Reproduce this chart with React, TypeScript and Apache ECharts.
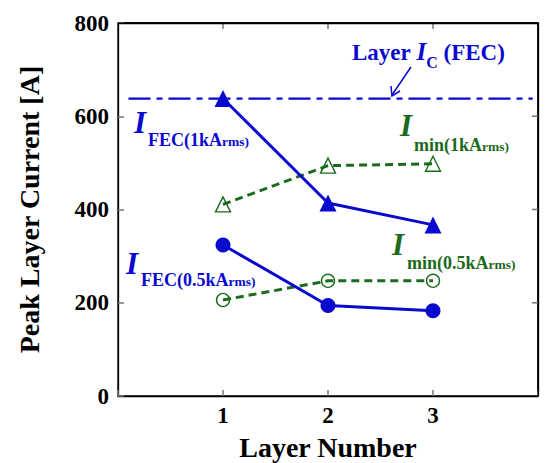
import React, { useEffect, useRef } from "react";
import * as echarts from "echarts";

const layers = [1, 2, 3];
const iFec1k = [638, 414, 367];
const iMin1k = [411, 494, 498];
const iFec05k = [324, 194, 183];
const iMin05k = [206, 247, 247];
const layerIc = 638;
const icSpan = [0.1, 3.95];
const yTicks = [0, 200, 400, 600, 800];
const xRange = [0, 4];

const BLUE = "#0a0acf";
const GREEN = "#1c6a1c";
const FONT = "'Liberation Serif', 'Times New Roman', serif";

const GRID = { left: 118, right: 9, top: 23, bottom: 67 };
const W = 547;
const H = 463;

const pts = (ys: number[]) => layers.map((x, i) => [x, ys[i]]);

export default function App() {
  const ref = useRef<HTMLDivElement>(null);
  useEffect(() => {
    document.body.style.margin = "0";
    if (!ref.current) return;
    const chart = echarts.init(ref.current, undefined, { renderer: "svg" });
    const tickStyle = { show: true, inside: true, length: 6, lineStyle: { color: "#777777", width: 1.5 } };
    const axisLine = { show: true, onZero: false, lineStyle: { color: "#000000", width: 1.3 } };
    const subRich = (main: string, color: string) => ({
      text: `{a|${main}}{b|rms)}`,
      fill: color,
      font: `bold 18px ${FONT}`,
      rich: {
        a: { fontFamily: FONT, fontWeight: "bold", fontSize: 18, fill: color, verticalAlign: "bottom" },
        b: { fontFamily: FONT, fontWeight: "bold", fontSize: 13.5, fill: color, verticalAlign: "bottom", padding: [0, 0, 1, 0] },
      },
      verticalAlign: "bottom",
    });
    const bigI = (x: number, y: number, color: string) => ({
      type: "text",
      x,
      y,
      style: { text: "I", fill: color, font: `italic bold 31px ${FONT}`, verticalAlign: "bottom" },
    });

    const gx0 = GRID.left;
    const gx1 = W - GRID.right;
    const gy0 = GRID.top;
    const gy1 = H - GRID.bottom;

    chart.setOption({
      animation: false,
      grid: {
        ...GRID,
        containLabel: false,
        outerBoundsMode: "none",
        show: true,
        borderColor: "#000000",
        borderWidth: 1.3,
        backgroundColor: "rgba(255,255,255,0)",
      },
      xAxis: [
        {
          type: "value",
          min: xRange[0],
          max: xRange[1],
          interval: 1,
          position: "bottom",
          axisLine,
          axisTick: tickStyle,
          splitLine: { show: false },
          axisLabel: {
            color: "#000",
            fontFamily: FONT,
            fontWeight: "bold",
            fontSize: 23,
            margin: 8,
            formatter: (v: number) => (layers.includes(v) ? String(v) : ""),
          },
          name: "Layer Number",
          nameLocation: "middle",
          nameGap: 37,
          nameTextStyle: { color: "#000", fontFamily: FONT, fontWeight: "bold", fontSize: 28 },
        },
      ],
      yAxis: [
        {
          type: "value",
          min: 0,
          max: 800,
          interval: 200,
          position: "left",
          axisLine,
          axisTick: tickStyle,
          splitLine: { show: false },
          axisLabel: {
            color: "#000",
            fontFamily: FONT,
            fontWeight: "bold",
            fontSize: 23,
            margin: 9,
            formatter: (v: number) => (yTicks.includes(v) ? String(v) : ""),
          },
          name: "Peak Layer Current [A]",
          nameLocation: "middle",
          nameGap: 75,
          nameTextStyle: { color: "#000", fontFamily: FONT, fontWeight: "bold", fontSize: 28 },
        },
      ],
      series: [
        {
          type: "line",
          data: icSpan.map((x) => [x, layerIc]),
          symbol: "none",
          lineStyle: { color: BLUE, width: 2.2, type: [22, 6, 6, 6] },
          z: 1,
          markLine: {
            silent: true,
            symbol: ["none", "none"],
            label: { show: false },
            lineStyle: { color: "#000000", width: 1.3, type: "solid" },
            data: [
              [{ coord: [xRange[0], 800] }, { coord: [xRange[1], 800] }],
              [{ coord: [xRange[1], 0] }, { coord: [xRange[1], 800] }],
            ],
          },
        },
        {
          type: "line",
          data: pts(iMin1k),
          symbol: "triangle",
          symbolSize: 15,
          itemStyle: { color: "rgba(255,255,255,0)", borderColor: GREEN, borderWidth: 1.4 },
          lineStyle: { color: GREEN, width: 3, type: [8, 5] },
          z: 2,
        },
        {
          type: "line",
          data: pts(iMin05k),
          symbol: "circle",
          symbolSize: 13,
          itemStyle: { color: "rgba(255,255,255,0)", borderColor: GREEN, borderWidth: 1.4 },
          lineStyle: { color: GREEN, width: 3, type: [8, 5] },
          z: 2,
        },
        {
          type: "line",
          data: pts(iFec1k),
          symbol: "triangle",
          symbolSize: 17,
          itemStyle: { color: BLUE, borderWidth: 0 },
          lineStyle: { color: BLUE, width: 3 },
          z: 3,
        },
        {
          type: "line",
          data: pts(iFec05k),
          symbol: "circle",
          symbolSize: 15,
          itemStyle: { color: BLUE, borderWidth: 0 },
          lineStyle: { color: BLUE, width: 3 },
          z: 3,
        },
      ],
    });

    const toPx = (x: number, y: number): number[] => [
      gx0 + ((x - xRange[0]) / (xRange[1] - xRange[0])) * (gx1 - gx0),
      gy1 - (y / 800) * (gy1 - gy0),
    ];
    const frame: any[] = [
      {
        type: "polyline",
        shape: { points: [[gx0, gy0], [gx1, gy0], [gx1, gy1]] },
        style: { stroke: "#000000", lineWidth: 1.5, fill: "none" },
      },
    ];
    layers.forEach((v) => {
      const tx = toPx(v, 800)[0];
      frame.push({ type: "line", shape: { x1: tx, y1: gy0, x2: tx, y2: gy0 + 6 }, style: { stroke: "#777777", lineWidth: 1.5 } });
    });
    yTicks.slice(1, -1).forEach((v) => {
      const ty = toPx(xRange[1], v)[1];
      frame.push({ type: "line", shape: { x1: gx1 - 6, y1: ty, x2: gx1, y2: ty }, style: { stroke: "#777777", lineWidth: 1.5 } });
    });

    chart.setOption({
      graphic: [
        ...frame,
        {
          type: "text",
          x: 352,
          y: 64,
          style: {
            text: "{a|Layer }{i|I}{c|C}{a| (FEC)}",
            verticalAlign: "bottom",
            rich: {
              a: { fontFamily: FONT, fontWeight: "bold", fontSize: 23, fill: BLUE, verticalAlign: "bottom" },
              i: { fontFamily: FONT, fontWeight: "bold", fontStyle: "italic", fontSize: 25, fill: BLUE, verticalAlign: "bottom" },
              c: { fontFamily: FONT, fontWeight: "bold", fontSize: 16, fill: BLUE, verticalAlign: "bottom", padding: [0, 0, -6, 0] },
            },
          },
        },
        { type: "line", shape: { x1: 411, y1: 67, x2: 392, y2: 95 }, style: { stroke: BLUE, lineWidth: 1.5 } },
        { type: "polyline", shape: { points: [[391, 86], [392, 96], [400, 91]] }, style: { stroke: BLUE, lineWidth: 1.5, fill: "none" } },
        bigI(134, 138, BLUE),
        { type: "text", x: 148, y: 149, style: subRich("FEC(1kA", BLUE) },
        bigI(400, 141, GREEN),
        { type: "text", x: 414, y: 154, style: subRich("min(1kA", GREEN) },
        bigI(126, 279, BLUE),
        { type: "text", x: 141, y: 289, style: subRich("FEC(0.5kA", BLUE) },
        bigI(392, 260, GREEN),
        { type: "text", x: 407, y: 272, style: subRich("min(0.5kA", GREEN) },
      ],
    });
    return () => chart.dispose();
  }, []);
  return <div ref={ref} style={{ width: W, height: H }} />;
}
